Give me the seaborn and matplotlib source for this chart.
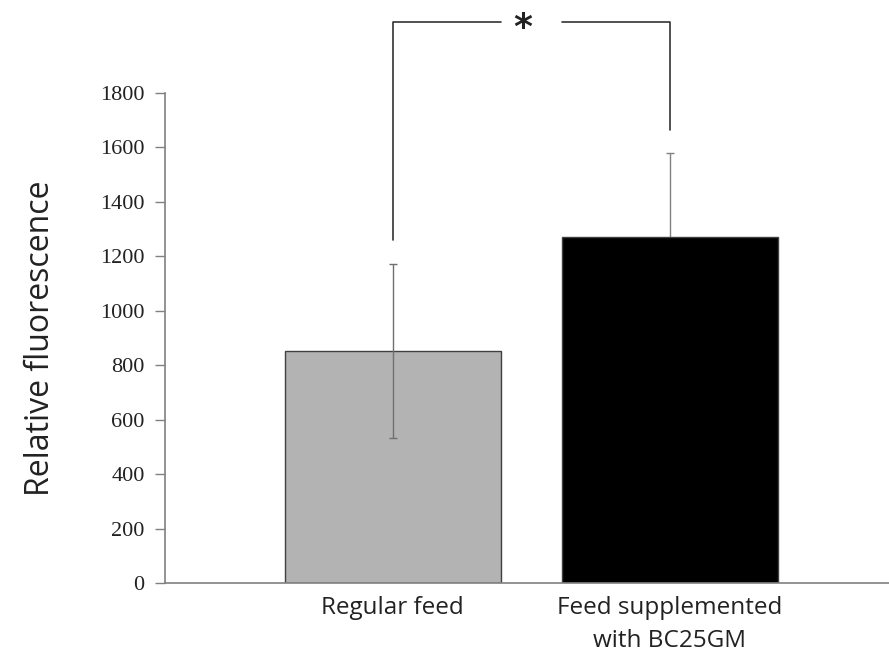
import matplotlib
matplotlib.use("Agg")
import matplotlib.pyplot as plt
import seaborn as sns
import pandas as pd

groups = ["Regular feed", "Feed supplemented\nwith BC25GM"]
means = [852, 1271]
errors = [320, 309]
bar_colors = ["#b3b3b3", "#000000"]

sns.set_style("white")

df = pd.DataFrame({"group": groups, "value": means})

fig = plt.figure(figsize=(8.89, 6.59), dpi=100)
ax = fig.add_axes([0.186, 0.115, 0.814, 0.744])

sns.barplot(data=df, x="group", y="value", hue="group", palette=bar_colors,
            legend=False, width=0.78, edgecolor="#404040", linewidth=1, ax=ax,
            zorder=2)
# first error bar drawn on top of the grey bar, second one behind the black bar
ax.errorbar([0], [means[0]], yerr=[errors[0]], fmt="none", ecolor="#707070",
            elinewidth=1, capsize=3, capthick=1, zorder=3)
ax.errorbar([1], [means[1]], yerr=[errors[1]], fmt="none", ecolor="#808080",
            elinewidth=1, capsize=3, capthick=1, zorder=1)

ax.set_xlim(-0.82, 1.79)
ax.set_ylim(0, 1800)
ax.set_yticks(range(0, 1801, 200))
ax.set_xlabel("")
ax.set_ylabel("Relative fluorescence", fontsize=23, family="Open Sans",
              color="#222222", labelpad=31)

for lab in ax.get_yticklabels():
    lab.set_family("Liberation Serif")
    lab.set_fontsize(16)
    lab.set_color("#222222")
for lab in ax.get_xticklabels():
    lab.set_family("Open Sans")
    lab.set_fontsize(17.5)
    lab.set_color("#222222")
    lab.set_linespacing(1.45)

ax.tick_params(axis="y", left=True, length=7, width=1, color="#808080", pad=8)
ax.tick_params(axis="x", bottom=False, pad=6)
for side in ["top", "right"]:
    ax.spines[side].set_visible(False)
for side in ["left", "bottom"]:
    ax.spines[side].set_color("#808080")
    ax.spines[side].set_linewidth(1.2)

# significance bracket
top = 2060
ax.plot([0, 0, 0.39], [1260, top, top], color="#333333", lw=1.2, clip_on=False)
ax.plot([0.61, 1, 1], [top, top, 1664], color="#333333", lw=1.2, clip_on=False)
ax.text(0.47, top - 20, "*", ha="center", va="center", fontsize=26,
        fontweight="bold", family="DejaVu Sans", color="#222222", clip_on=False)

fig.savefig("out.png", dpi=100)
